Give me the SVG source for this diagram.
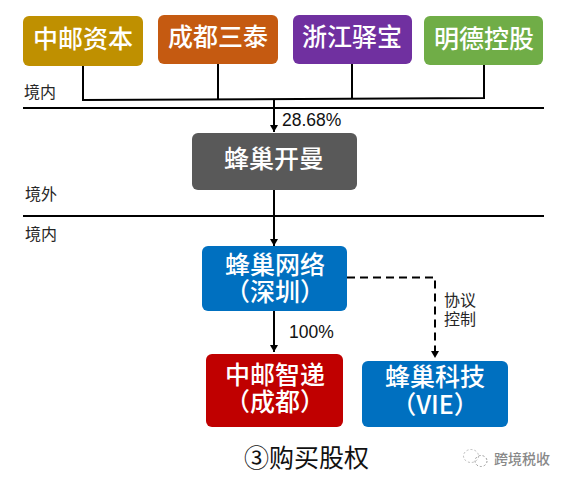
<svg xmlns="http://www.w3.org/2000/svg" width="567" height="483" viewBox="0 0 567 483">
<style>
.n{font:500 25px "Noto Sans CJK SC","Liberation Sans",sans-serif;fill:#fff;text-anchor:middle}
.l{font:16px "Noto Sans CJK SC","Liberation Sans",sans-serif;fill:#262626}
.p{font:17.500px "Liberation Sans","Noto Sans CJK SC",sans-serif;fill:#111}
.c{fill:none;stroke:#000;stroke-width:2}
</style>
<defs><marker id="a" markerUnits="userSpaceOnUse" markerWidth="8" markerHeight="9" refX="7" refY="4" orient="auto"><path d="M0 0L7 4L0 8Z" fill="#000"/></marker></defs>
<rect width="567" height="483" fill="#fff"/>
<g id="connectors">
<path class="c" d="M23 108H544M23 216H544"/>
<path class="c" d="M83 65V100L484 98V65M218 64V99M352 64V99"/>
<path class="c" d="M274 99V132" marker-end="url(#a)"/>
<path class="c" d="M274 189V246" marker-end="url(#a)"/>
<path class="c" d="M274 311V352" marker-end="url(#a)"/>
<path class="c" d="M347 277.500H435V358" stroke-dasharray="8 5" marker-end="url(#a)"/>
</g>
<g id="n1"><rect x="23" y="16" width="120" height="50" rx="6" fill="#bf9000"/><text class="n" x="83" y="48">中邮资本</text></g>
<g id="n2"><rect x="158" y="15" width="120" height="49" rx="6" fill="#c55a11"/><text class="n" x="218" y="46">成都三泰</text></g>
<g id="n3"><rect x="293" y="15" width="119" height="49" rx="6" fill="#7030a0"/><text class="n" x="352" y="46">浙江驿宝</text></g>
<g id="n4"><rect x="424" y="16" width="119" height="49" rx="6" fill="#70ad47"/><text class="n" x="484" y="48">明德控股</text></g>
<g id="n5"><rect x="192" y="133" width="165" height="57" rx="6" fill="#595959"/><text class="n" x="274" y="168">蜂巢开曼</text></g>
<g id="n6"><rect x="202" y="246" width="145" height="65" rx="6" fill="#0070c0"/><text class="n" x="275" y="274">蜂巢网络</text><text class="n" x="275" y="301">（深圳）</text></g>
<g id="n7"><rect x="206" y="354" width="137" height="73" rx="6" fill="#c00000"/><text class="n" x="275" y="384">中邮智递</text><text class="n" x="275" y="411">（成都）</text></g>
<g id="n8"><rect x="362" y="361" width="146" height="66" rx="6" fill="#0070c0"/><text class="n" x="435" y="386">蜂巢科技</text><text class="n" x="435" y="414">（VIE）</text></g>
<g id="labels">
<text class="l" x="24" y="98">境内</text>
<text class="l" x="25" y="200">境外</text>
<text class="l" x="25" y="240">境内</text>
<text class="p" x="282" y="126">28.68%</text>
<text class="p" x="289" y="338">100%</text>
<text class="l" x="444" y="306">协议</text>
<text class="l" x="444" y="325">控制</text>
<text x="244" y="467" style="font:25px 'Noto Sans CJK SC','Liberation Sans',sans-serif;fill:#111">③购买股权</text>
</g>
<g id="watermark">
<ellipse cx="471" cy="456" rx="7.500" ry="6.500" fill="none" stroke="#bbb" stroke-dasharray="2 2"/>
<ellipse cx="481" cy="461" rx="6" ry="5.500" fill="none" stroke="#999" stroke-dasharray="2 2"/>
<text x="494" y="464" style="font:500 14px 'Noto Sans CJK SC','Liberation Sans',sans-serif;fill:#888">跨境税收</text>
</g>
</svg>
